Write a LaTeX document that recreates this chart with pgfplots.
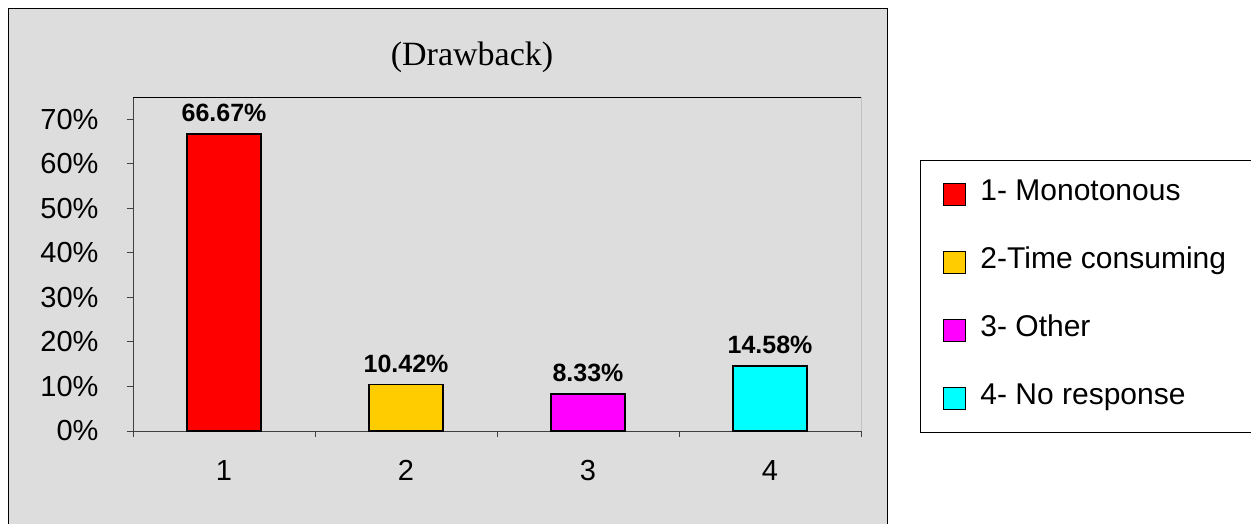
\documentclass[border=0pt]{standalone}
\usepackage{pgfplots}
\pgfplotsset{compat=1.18}
\usepackage{fontspec}
\setmainfont{Liberation Sans}
\newfontfamily\seriffont{Liberation Serif}
\definecolor{bg}{HTML}{DDDDDD}
\definecolor{axgray}{HTML}{404040}
\definecolor{c1}{HTML}{FF0000}
\definecolor{c2}{HTML}{FFCC00}
\definecolor{c3}{HTML}{FF00FF}
\definecolor{c4}{HTML}{00FFFF}
\begin{document}
\begin{tikzpicture}[x=1pt,y=1pt]
\useasboundingbox (0,0) rectangle (1251,-523);
\draw[black, fill=bg, line width=1pt] (8,-8) rectangle (887,-540);
\begin{axis}[
  at={(133pt,-431pt)}, anchor=south west,
  scale only axis, width=728pt, height=334pt,
  xmin=0.5, xmax=4.5, ymin=0, ymax=75,
  axis x line*=bottom, axis y line*=left,
  axis line style={axgray, line width=1pt, -},
  ytick={0,10,20,30,40,50,60,70},
  yticklabels={0\%,10\%,20\%,30\%,40\%,50\%,60\%,70\%},
  xtick={0.5,1.5,2.5,3.5,4.5}, xticklabels={},
  extra x ticks={1,2,3,4}, extra x tick labels={1,2,3,4},
  extra x tick style={major tick length=0pt},
  tick align=outside, major tick length=6pt,
  tick style={axgray, line width=1pt},
  ticklabel style={font=\fontsize{29}{34}\selectfont},
  yticklabel style={anchor=east, xshift=-25pt},
  xticklabel style={yshift=-26pt},
  ybar, bar width=74pt, bar shift=0pt,
  every axis plot/.append style={draw=black, line width=1.5pt},
  point meta=explicit symbolic,
  nodes near coords={\pgfplotspointmeta},
  nodes near coords style={font=\bfseries\fontsize{25}{30}\selectfont, anchor=south, yshift=8pt},
  title={(Drawback)},
  title style={at={(rel axis cs:0.4657,1.102)}, anchor=center, font=\seriffont\fontsize{34}{40}\selectfont},
  legend image code/.code={\draw[#1, line width=1pt] (0pt,-11pt) rectangle (22pt,11pt);},
  legend cell align=left,
  legend style={at={(rel axis cs:1.081,0.811)}, anchor=north west, draw=black, fill=white,
    line width=1pt, font=\fontsize{30}{34}\selectfont, inner xsep=23pt, inner ysep=20pt,
    row sep=40pt,
    nodes={inner sep=0pt, text height=20pt, text depth=8pt},
    /tikz/every even column/.append style={column sep=0pt}},
]
\addplot[fill=c1] coordinates {(1,66.67) [66.67\%]};
\addlegendentry{\makebox[262pt][l]{\hspace{14pt}1- Monotonous}}
\addplot[fill=c2] coordinates {(2,10.42) [10.42\%]};
\addlegendentry{\makebox[262pt][l]{\hspace{14pt}2-Time consuming}}
\addplot[fill=c3] coordinates {(3,8.33) [8.33\%]};
\addlegendentry{\makebox[262pt][l]{\hspace{14pt}3- Other}}
\addplot[fill=c4] coordinates {(4,14.58) [14.58\%]};
\addlegendentry{\makebox[262pt][l]{\hspace{14pt}4- No response}}
\draw[black, line width=1pt] (rel axis cs:0,1) -- (rel axis cs:1,1) -- (rel axis cs:1,0);
\end{axis}
\end{tikzpicture}
\end{document}
